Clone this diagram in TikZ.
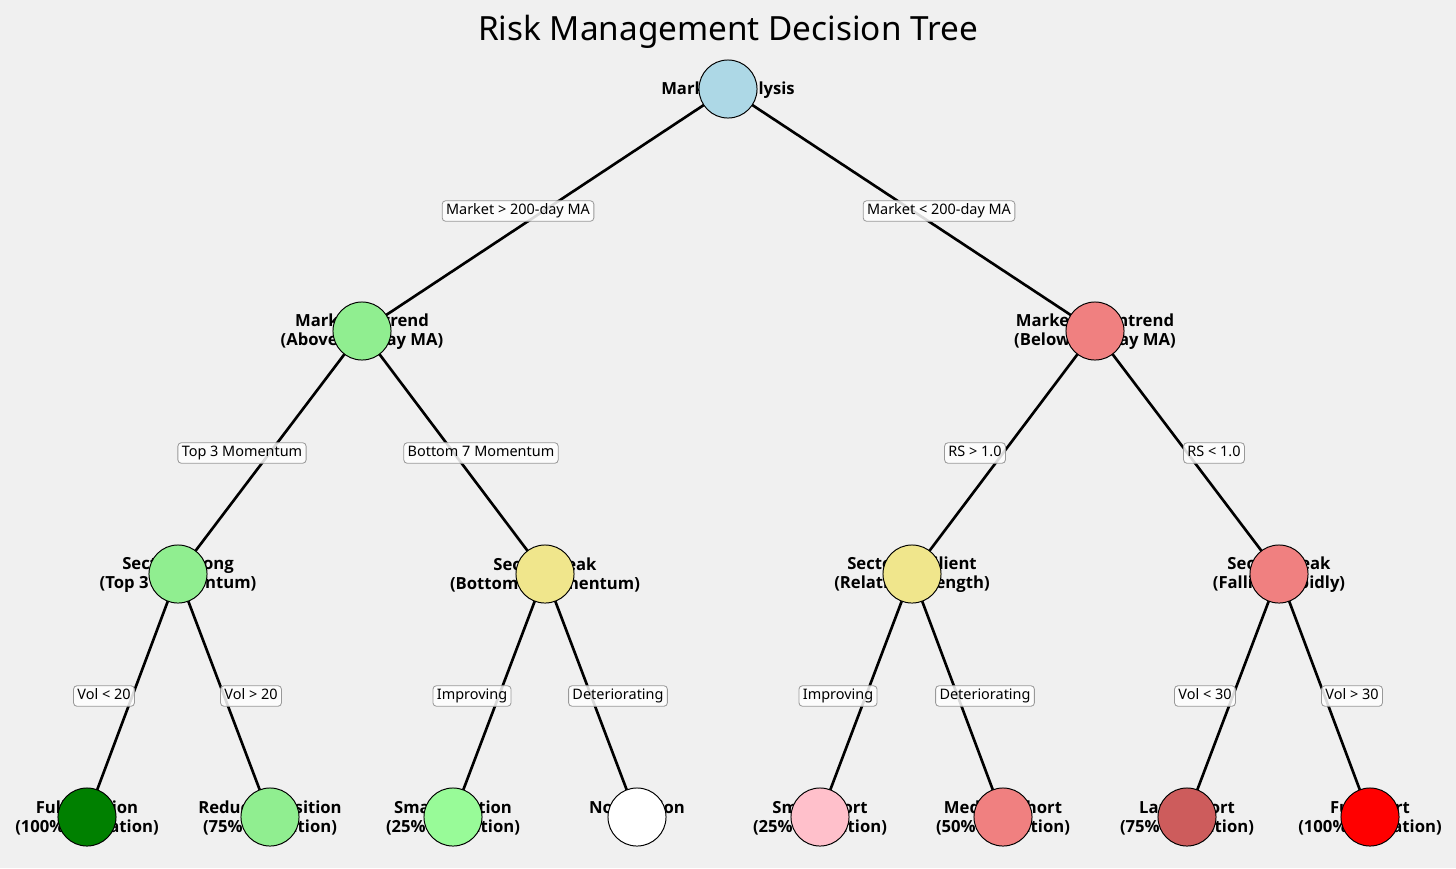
\documentclass[tikz,border=0pt]{standalone}
\usepackage{fontspec}
\setmainfont{Noto Sans}
\IfFontExistsTF{Noto Sans Bold}{\newfontfamily\nbold{Noto Sans Bold}}{%
 \IfFontExistsTF{Open Sans Bold}{\newfontfamily\nbold{Open Sans Bold}}{%
  \IfFontExistsTF{OpenSans-Bold}{\newfontfamily\nbold{OpenSans-Bold}}{%
   \newfontfamily\nbold{DejaVu Sans Bold}}}}
\pgfdeclarelayer{bgl}
\pgfdeclarelayer{edges}
\pgfdeclarelayer{txt}
\pgfsetlayers{bgl,edges,txt,main}
\definecolor{bgc}{HTML}{F0F0F0}
\definecolor{lblue}{HTML}{ADD8E6}
\definecolor{lgreen}{HTML}{90EE90}
\definecolor{lcoral}{HTML}{F08080}
\definecolor{khaki}{HTML}{F0E68C}
\definecolor{dgreen}{HTML}{008000}
\definecolor{pgreen}{HTML}{98FB98}
\definecolor{pinkc}{HTML}{FFC0CB}
\definecolor{ired}{HTML}{CD5C5C}
\definecolor{redc}{HTML}{FF0000}
\definecolor{lblborder}{HTML}{999999}
\begin{document}
\begin{tikzpicture}[x=0.72pt,y=-0.72pt,
  dot/.style={circle,draw=black,line width=0.7pt,minimum size=41.8pt,inner sep=0pt},
  ntext/.style={font=\fontsize{12}{13.7}\selectfont\nbold,align=center,inner sep=0pt},
  link/.style={line width=1.9pt,black},
  elabel/.style={font=\fontsize{10.4}{12.4}\selectfont,fill=white,fill opacity=0.85,text opacity=1,draw=lblborder,line width=0.6pt,rounded corners=2.5pt,inner xsep=2.8pt,inner ysep=2.5pt,text height=7.6pt,text depth=2.2pt}]
\begin{pgfonlayer}{bgl}
\fill[bgc] (0,0) rectangle (1456,868);
\end{pgfonlayer}
\useasboundingbox (0,0) rectangle (1456,868);
\node[font=\fontsize{24}{28}\selectfont] (title) at (728,32) {Risk Management Decision Tree};
% circles
\node[dot,fill=lblue] (r) at (728,89) {};
\node[dot,fill=lgreen] (a) at (362,331) {};
\node[dot,fill=lcoral] (b) at (1095,331) {};
\node[dot,fill=lgreen] (a1) at (178,574) {};
\node[dot,fill=khaki] (a2) at (545,574) {};
\node[dot,fill=khaki] (b1) at (912,574) {};
\node[dot,fill=lcoral] (b2) at (1279,574) {};
\node[dot,fill=dgreen] (a11) at (87,817) {};
\node[dot,fill=lgreen] (a12) at (270,817) {};
\node[dot,fill=pgreen] (a21) at (453,817) {};
\node[dot,fill=white] (a22) at (637,817) {};
\node[dot,fill=pinkc] (b11) at (820,817) {};
\node[dot,fill=lcoral] (b12) at (1003,817) {};
\node[dot,fill=ired] (b21) at (1187,817) {};
\node[dot,fill=redc] (b22) at (1370,817) {};
% node texts (behind circles)
\begin{pgfonlayer}{txt}
\begin{scope}[every node/.append style={yshift=-0.6pt}]
\node[ntext] (tr) at (r) {Market Analysis};
\node[ntext] (ta) at (a) {Market Uptrend\\(Above 200-day MA)};
\node[ntext] (tb) at (b) {Market Downtrend\\(Below 200-day MA)};
\node[ntext] (ta1) at (a1) {Sector Strong\\(Top 3 Momentum)};
\node[ntext] (ta2) at (a2) {Sector Weak\\(Bottom 7 Momentum)};
\node[ntext] (tb1) at (b1) {Sector Resilient\\(Relative Strength)};
\node[ntext] (tb2) at (b2) {Sector Weak\\(Falling Rapidly)};
\node[ntext] (ta11) at (a11) {Full Position\\(100\% Allocation)};
\node[ntext] (ta12) at (a12) {Reduced Position\\(75\% Allocation)};
\node[ntext] (ta21) at (a21) {Small Position\\(25\% Allocation)};
\node[ntext,yshift=7.4pt] (ta22) at (a22) {No Position};
\node[ntext] (tb11) at (b11) {Small Short\\(25\% Allocation)};
\node[ntext] (tb12) at (b12) {Medium Short\\(50\% Allocation)};
\node[ntext] (tb21) at (b21) {Large Short\\(75\% Allocation)};
\node[ntext] (tb22) at (b22) {Full Short\\(100\% Allocation)};
\end{scope}
\end{pgfonlayer}
% edges
\begin{pgfonlayer}{edges}
\draw[link] (r.center) -- (a.center);
\draw[link] (r.center) -- (b.center);
\draw[link] (a.center) -- (a1.center);
\draw[link] (a.center) -- (a2.center);
\draw[link] (b.center) -- (b1.center);
\draw[link] (b.center) -- (b2.center);
\draw[link] (a1.center) -- (a11.center);
\draw[link] (a1.center) -- (a12.center);
\draw[link] (a2.center) -- (a21.center);
\draw[link] (a2.center) -- (a22.center);
\draw[link] (b1.center) -- (b11.center);
\draw[link] (b1.center) -- (b12.center);
\draw[link] (b2.center) -- (b21.center);
\draw[link] (b2.center) -- (b22.center);
\end{pgfonlayer}
% edge labels
\node[elabel] (e1) at (518,211) {Market > 200-day MA};
\node[elabel] (e2) at (939,211) {Market < 200-day MA};
\node[elabel] (e3) at (242,453) {Top 3 Momentum};
\node[elabel] (e4) at (481,453) {Bottom 7 Momentum};
\node[elabel] (e5) at (975,453) {RS > 1.0};
\node[elabel] (e6) at (1214,453) {RS < 1.0};
\node[elabel] (e7) at (104,696) {Vol < 20};
\node[elabel] (e8) at (251,696) {Vol > 20};
\node[elabel] (e9) at (472,696) {Improving};
\node[elabel] (e10) at (618,696) {Deteriorating};
\node[elabel] (e11) at (838,696) {Improving};
\node[elabel] (e12) at (985,696) {Deteriorating};
\node[elabel] (e13) at (1205,696) {Vol < 30};
\node[elabel] (e14) at (1352,696) {Vol > 30};
\end{tikzpicture}
\end{document}
